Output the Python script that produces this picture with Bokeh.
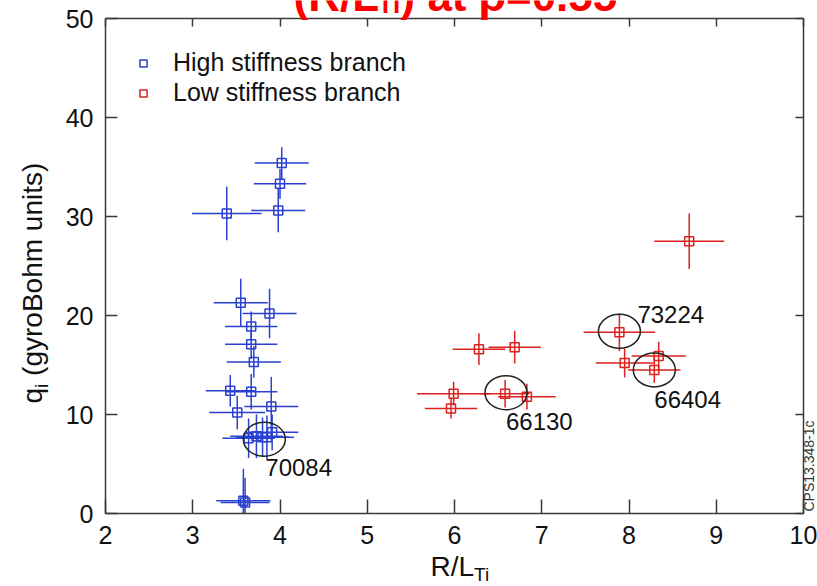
from math import pi
from bokeh.plotting import figure
from bokeh.models import Range1d, LinearAxis, FixedTicker, Label, Legend, LegendItem, ColumnDataSource
from bokeh.embed import file_html
from bokeh.resources import INLINE
from bokeh.core.properties import value

# ---------------- data ----------------
high_x = [3.39, 4.02, 4.00, 3.98, 3.55, 3.88, 3.67, 3.67, 3.70, 3.43, 3.67, 3.90, 3.51,
          3.64, 3.73, 3.80, 3.85, 3.91, 3.58, 3.60]
high_y = [30.3, 35.4, 33.3, 30.6, 21.3, 20.2, 18.9, 17.1, 15.3, 12.4, 12.3, 10.8, 10.2,
          7.6, 7.8, 7.7, 7.7, 8.2, 1.3, 1.1]
high_xerr = [0.40, 0.31, 0.30, 0.31, 0.31, 0.31, 0.30, 0.30, 0.31, 0.28, 0.30, 0.31, 0.32,
             0.30, 0.30, 0.30, 0.31, 0.30, 0.31, 0.28]
high_yerr = [2.7, 1.6, 1.5, 2.2, 2.4, 2.5, 1.5, 1.5, 1.6, 1.6, 1.8, 3.0, 1.7,
             2.0, 2.2, 2.0, 2.2, 1.8, 3.2, 2.5]

low_x = [6.28, 6.69, 5.99, 5.96, 6.58, 6.83, 8.69, 7.89, 7.95, 8.34, 8.29]
low_y = [16.6, 16.8, 12.1, 10.6, 12.1, 11.8, 27.5, 18.3, 15.2, 15.9, 14.5]
low_xerr = [0.30, 0.30, 0.42, 0.30, 0.28, 0.33, 0.40, 0.41, 0.33, 0.31, 0.30]
low_yerr = [1.6, 1.65, 1.2, 1.0, 1.4, 1.3, 2.8, 1.9, 1.45, 1.45, 1.3]

shot_ids = ["70084", "66130", "73224", "66404"]
shot_x = [3.82, 6.59, 7.89, 8.29]
shot_y = [7.5, 12.2, 18.4, 14.5]

x_ticks = [2, 3, 4, 5, 6, 7, 8, 9, 10]
y_ticks = [0, 10, 20, 30, 40, 50]

series_names = ["High stiffness branch", "Low stiffness branch"]

# ---------------- layout / style ----------------
W, H = 817, 586
BOX_L, BOX_R, BOX_T, BOX_B = 105, 803, 18, 513     # pixel box of the data axes
X0, X1, Y0, Y1 = 2, 10, 0, 50
SX = (BOX_R - BOX_L) / (X1 - X0)
SY = (BOX_B - BOX_T) / (Y1 - Y0)
# the plotting frame covers the whole canvas so that texts outside the axes box are not clipped
x_lo, x_hi = X0 - BOX_L / SX, X1 + (W - BOX_R) / SX
y_lo, y_hi = Y0 - (H - BOX_B) / SY, Y1 + BOX_T / SY

FONT = "Liberation Sans"
BLUE = "#2a40d0"
RED = "#dd2020"
AXIS_COLOR = "#3a3a3a"
BASE_SHIFT = 0.37              # em: measured offset of the rendered baseline below the anchor
SHOT_SIZE = 24
label_dx = [1, 0, 18, 0]       # px offsets of shot-label baselines from the circled point
label_dy = [37, 38, -8, 38]    # px (positive = down)


def px2x(px):
    return X0 + (px - BOX_L) / SX


def py2y(py):
    return Y0 + (BOX_B - py) / SY


p = figure(width=W, height=H, x_range=Range1d(x_lo, x_hi), y_range=Range1d(y_lo, y_hi),
           output_backend="svg", toolbar_location=None, min_border=0)
p.title.visible = False
p.outline_line_color = None
p.xgrid.visible = False
p.ygrid.visible = False
p.background_fill_color = "white"
p.border_fill_color = "white"


def style_axis(ax, tick_in, show_labels, loc, bounds, ticks):
    ax.fixed_location = loc
    ax.bounds = bounds
    ax.ticker = FixedTicker(ticks=ticks)
    ax.axis_line_color = AXIS_COLOR
    ax.axis_line_width = 1.5
    ax.major_tick_line_color = AXIS_COLOR
    ax.major_tick_line_width = 1.5
    ax.major_tick_in = tick_in
    ax.major_tick_out = 0
    ax.minor_tick_line_color = None
    if show_labels:
        ax.major_label_text_font = FONT
        ax.major_label_text_font_size = "25px"
        ax.major_label_text_color = "#111111"
        ax.major_label_standoff = 12
    else:
        ax.major_label_text_font_size = "0px"
        ax.major_label_text_color = None
        ax.major_label_standoff = 0


style_axis(p.xaxis[0], 14, True, Y0, (X0, X1), x_ticks)
style_axis(p.yaxis[0], 12, True, X0, (Y0, Y1), y_ticks)
top_ax = LinearAxis()
right_ax = LinearAxis()
style_axis(top_ax, 8, False, Y1, (X0, X1), x_ticks)
style_axis(right_ax, 8, False, X1, (Y0, Y1), y_ticks)
p.add_layout(top_ax, "above")
p.add_layout(right_ax, "right")


# ---------------- error bars and markers ----------------
def series(xs, ys, xe, ye, color):
    src = ColumnDataSource(dict(
        x=xs, y=ys,
        x0=[a - e for a, e in zip(xs, xe)], x1=[a + e for a, e in zip(xs, xe)],
        y0=[max(b - e, Y0) for b, e in zip(ys, ye)], y1=[b + e for b, e in zip(ys, ye)]))
    p.segment(x0="x0", y0="y", x1="x1", y1="y", source=src, line_color=color, line_width=1.5)
    p.segment(x0="x", y0="y0", x1="x", y1="y1", source=src, line_color=color, line_width=1.5)
    return p.scatter("x", "y", source=src, marker="square", size=9, fill_color=None,
                     line_color=color, line_width=1.5)


r_high = series(high_x, high_y, high_xerr, high_yerr, BLUE)
r_low = series(low_x, low_y, low_xerr, low_yerr, RED)

# circled shots
p.ellipse(x=shot_x, y=shot_y, width=42, height=34, width_units="screen", height_units="screen",
          fill_color=None, line_color="#222222", line_width=1.5)
for sid, sx, sy, dx, dy in zip(shot_ids, shot_x, shot_y, label_dx, label_dy):
    p.text(x=[sx], y=[sy], text=[sid], x_offset=dx, y_offset=dy - BASE_SHIFT * SHOT_SIZE,
           text_font=value(FONT), text_font_size=f"{SHOT_SIZE}px", text_color="#111111",
           text_align="left", text_baseline="alphabetic")

# legend (location = lower-left corner of the legend box, px from canvas bottom-left)
legend = Legend(items=[LegendItem(label=series_names[0], renderers=[r_high]),
                       LegendItem(label=series_names[1], renderers=[r_low])],
                location=(134, H - 107), margin=0, padding=0, spacing=1,
                glyph_width=18, glyph_height=18, label_standoff=21,
                label_text_font=FONT, label_text_font_size="25px", label_text_color="#111111",
                border_line_color=None, background_fill_color=None)
p.add_layout(legend)


def lab(text, px, py, size, angle=0.0, color="#111111", style="normal"):
    """px, py: start of the text baseline in canvas pixels."""
    shift = BASE_SHIFT * size
    if angle:
        px -= shift
    else:
        py -= shift
    p.add_layout(Label(x=px2x(px), y=py2y(py), text=text,
                       text_font=FONT, text_font_size=f"{size}px", text_color=color,
                       text_font_style=style, angle=angle,
                       text_align="left", text_baseline="alphabetic"))


# y axis label: q_i (gyroBohm units)
lab("q", 42, 403, 28, angle=pi / 2)
lab("i", 48, 387.4, 19, angle=pi / 2)
lab("(gyroBohm units)", 42, 375.4, 28, angle=pi / 2)
# x axis label: R/L_Ti
lab("R/L", 430, 576, 28)
lab("Ti", 473.6, 581, 19)
# title (mostly cut off at the top in the reference)
lab("(R/L", 293, 11, 44, color="#ff0000", style="bold")
lab("Ti", 377, 13, 26, color="#ff0000", style="bold")
lab(") at \u03c1=0.55", 400, 11, 44, color="#ff0000", style="bold")
# figure id
lab("CPS13.348-1c", 814, 511, 14, angle=pi / 2, color="#333333")

open("out.html", "w").write(file_html(p, INLINE))
